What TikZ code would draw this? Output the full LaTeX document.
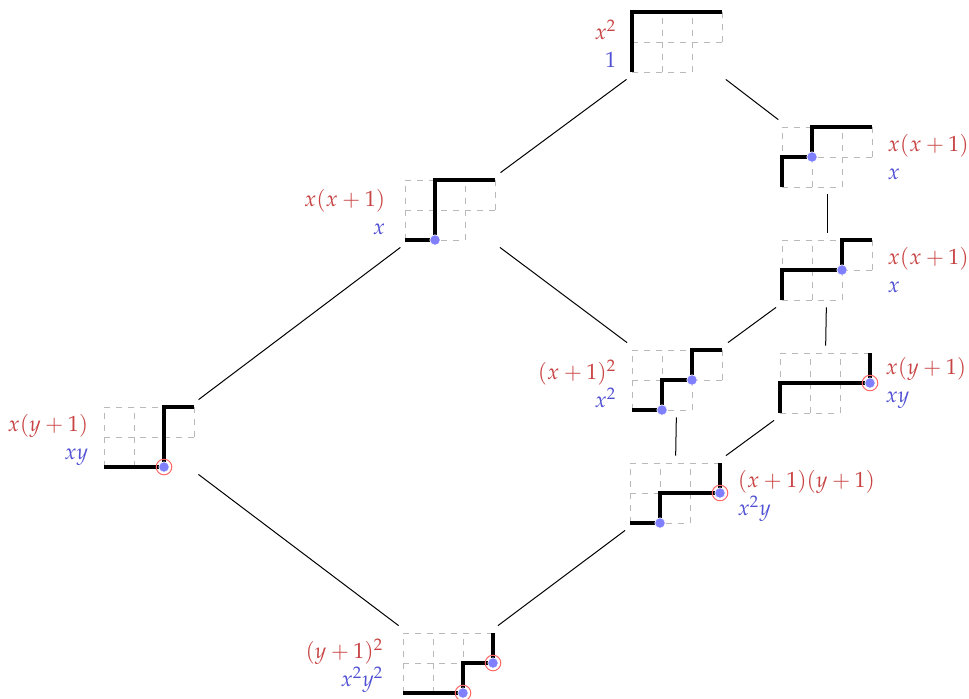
\documentclass[tikz,border=0pt]{standalone}
\usepackage{mathpazo}
\usetikzlibrary{positioning}
\definecolor{redtxt}{RGB}{200,68,68}
\definecolor{bluetxt}{RGB}{80,80,212}
\tikzset{
  cellgrid/.style={gray!55,dashed,line width=0.4pt},
  walk/.style={line width=2.3pt},
  valley/.style={fill=blue!50,draw=white,line width=0.3pt},
  ring/.style={red!60,line width=0.5pt},
  boxframe/.style={minimum width=52pt,minimum height=37pt,inner sep=0pt},
  lbl/.style={font=\fontsize{11}{14}\selectfont,inner sep=2pt},
  link/.style={line width=0.5pt}
}
% #1 name, (#2,#3) lower left corner, #4 path and dots
\newcommand{\youngbox}[4]{%
  \node[boxframe] (#1) at (#2+45,#3-30) {};
  \begin{scope}[shift={(#2,#3)},x=15pt,y=15pt]
    \draw[cellgrid] (0,0) -- (2,0) (0,1) -- (3,1) (0,2) -- (3,2)
      (0,0) -- (0,2) (1,0) -- (1,2) (2,0) -- (2,2) (3,1) -- (3,2);
    #4
  \end{scope}}
\newcommand{\rb}[2]{\textcolor{redtxt}{$#1$}\\\textcolor{bluetxt}{$#2$}}
\begin{document}
\begin{tikzpicture}[x=0.5pt,y=-0.5pt]
  \useasboundingbox (0,0) rectangle (969,698);
  %frames
  \youngbox{top}{632}{72}{\draw[walk] (0,0) -- (0,2) -- (3,2);}
  \youngbox{rA}{782}{187}{\draw[walk] (0,0) -- (0,1) -- (1,1) -- (1,2) -- (3,2);
    \fill[valley] (1,1) circle (2.6pt);}
  \youngbox{lA}{405}{240}{\draw[walk] (0,0) -- (1,0) -- (1,2) -- (3,2);
    \fill[valley] (1,0) circle (2.6pt);}
  \youngbox{lB}{104}{467}{\draw[walk] (0,0) -- (2,0) -- (2,2) -- (3,2);
    \fill[valley] (2,0) circle (2.6pt);
    \draw[ring] (2,0) circle (3.9pt);}
  \youngbox{mid}{632}{410}{\draw[walk] (0,0) -- (1,0) -- (1,1) -- (2,1) -- (2,2) -- (3,2);
    \fill[valley] (1,0) circle (2.6pt);
    \fill[valley] (2,1) circle (2.6pt);}
  \youngbox{rB}{782}{300}{\draw[walk] (0,0) -- (0,1) -- (2,1) -- (2,2) -- (3,2);
    \fill[valley] (2,1) circle (2.6pt);}
  \youngbox{rC}{780}{413}{\draw[walk] (0,0) -- (0,1) -- (3,1) -- (3,2);
    \fill[valley] (3,1) circle (2.6pt);
    \draw[ring] (3,1) circle (3.9pt);}
  \youngbox{low}{630}{523}{\draw[walk] (0,0) -- (1,0) -- (1,1) -- (3,1) -- (3,2);
    \fill[valley] (1,0) circle (2.6pt);
    \fill[valley] (3,1) circle (2.6pt);
    \draw[ring] (3,1) circle (3.9pt);}
  \youngbox{bot}{403}{693}{\draw[walk] (0,0) -- (2,0) -- (2,1) -- (3,1) -- (3,2);
    \fill[valley] (2,0) circle (2.6pt);
    \fill[valley] (3,1) circle (2.6pt);
    \draw[ring] (2,0) circle (3.9pt);
    \draw[ring] (3,1) circle (3.9pt);}
  %labels
  \node[lbl,align=right,left=2pt of top,yshift=-1pt] (top-l) {\rb{x^2}{1}};
  \node[lbl,align=left,right=2pt of rA] (rA-l) {\rb{x(x+1)}{x}};
  \node[lbl,align=right,left=4pt of lA,yshift=-1pt] (lA-l) {\rb{x(x+1)}{x}};
  \node[lbl,align=right,left=2pt of lB,yshift=-1.5pt] (lB-l) {\rb{x(y+1)}{xy}};
  \node[lbl,align=right,left=2pt of mid,yshift=-2pt] (mid-l) {\rb{(x+1)^2}{x^2}};
  \node[lbl,align=left,right=2pt of rB] (rB-l) {\rb{x(x+1)}{x}};
  \node[lbl,align=left,right=2pt of rC] (rC-l) {\rb{x(y+1)}{xy}};
  \node[lbl,align=left,right=3pt of low,yshift=-1.5pt] (low-l) {\rb{(x+1)(y+1)}{x^2y}};
  \node[lbl,align=right,left=4pt of bot,yshift=-1.5pt] (bot-l) {\rb{(y+1)^2}{x^2y^2}};
  %links
  \draw[link] (top) -- (lA);
  \draw[link] (top) -- (rA);
  \draw[link] (rA) -- (rB);
  \draw[link] (lA) -- (lB);
  \draw[link] (lA) -- (mid);
  \draw[link] (rB) -- (mid);
  \draw[link] (rB) -- (rC);
  \draw[link] (mid) -- (low);
  \draw[link] (rC) -- (low);
  \draw[link] (lB) -- (bot);
  \draw[link] (low) -- (bot);
\end{tikzpicture}
\end{document}
